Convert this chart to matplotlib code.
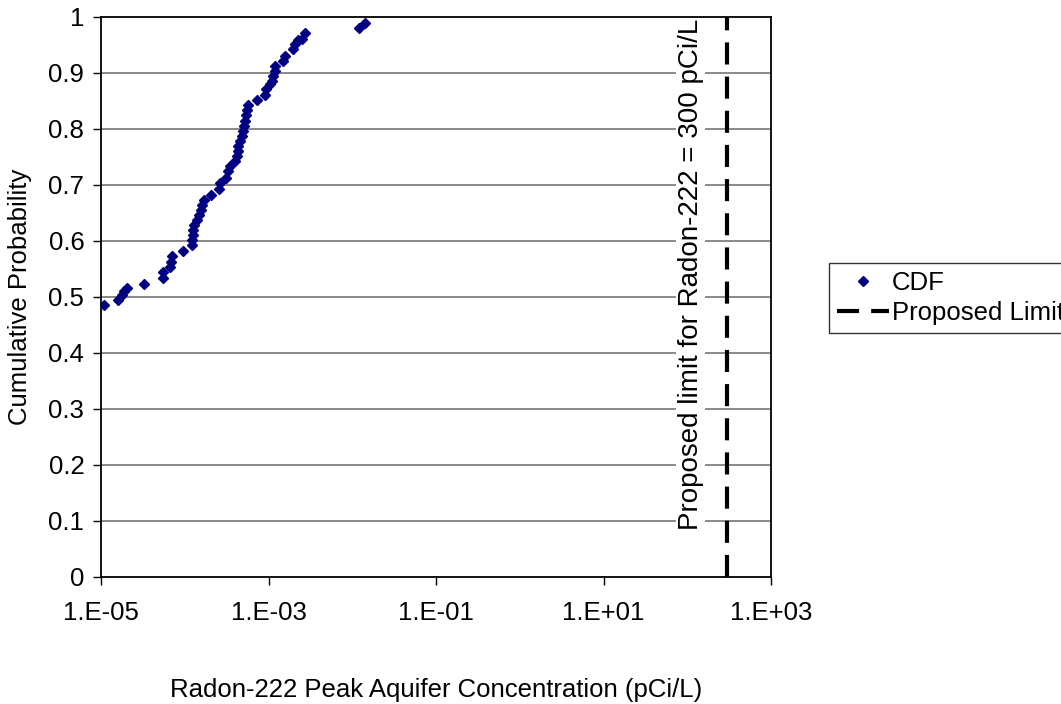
import matplotlib
matplotlib.use("Agg")
import matplotlib.pyplot as plt
from matplotlib.ticker import FixedLocator, NullLocator

plt.rcParams['font.family'] = ['Liberation Sans', 'DejaVu Sans']

# CDF of Radon-222 peak aquifer concentration (pCi/L)
cdf_conc = [1.09e-5, 1.61e-5, 1.77e-5, 1.90e-5, 2.03e-5, 3.26e-5, 5.46e-5, 5.55e-5,
            6.67e-5, 6.86e-5, 7.10e-5, 9.62e-5, 1.21e-4, 1.23e-4, 1.24e-4, 1.26e-4,
            1.30e-4, 1.39e-4, 1.48e-4, 1.56e-4, 1.62e-4, 1.71e-4, 2.06e-4, 2.56e-4,
            2.64e-4, 3.11e-4, 3.26e-4, 3.47e-4, 3.98e-4, 4.17e-4, 4.29e-4, 4.36e-4,
            4.57e-4, 4.79e-4, 5.00e-4, 5.14e-4, 5.24e-4, 5.34e-4, 5.49e-4, 5.74e-4,
            7.23e-4, 9.08e-4, 9.26e-4, 1.04e-3, 1.09e-3, 1.14e-3, 1.20e-3, 1.20e-3,
            1.50e-3, 1.57e-3, 1.95e-3, 2.07e-3, 2.27e-3, 2.49e-3, 2.73e-3,
            1.21e-2, 1.42e-2]
cdf_prob = [0.486, 0.495, 0.503, 0.510, 0.516, 0.524, 0.534, 0.544,
            0.553, 0.563, 0.573, 0.583, 0.593, 0.602, 0.611, 0.620,
            0.629, 0.638, 0.647, 0.656, 0.665, 0.674, 0.683, 0.693,
            0.704, 0.713, 0.725, 0.734, 0.743, 0.752, 0.761, 0.770,
            0.779, 0.788, 0.797, 0.806, 0.815, 0.825, 0.834, 0.843,
            0.852, 0.860, 0.871, 0.880, 0.886, 0.895, 0.904, 0.913,
            0.922, 0.931, 0.943, 0.952, 0.959, 0.961, 0.971,
            0.981, 0.990]

limit_value = 300
limit_label = "Proposed limit for Radon-222 = 300 pCi/L"
x_ticks = [1e-5, 1e-3, 1e-1, 1e1, 1e3]
x_tick_labels = ["1.E-05", "1.E-03", "1.E-01", "1.E+01", "1.E+03"]
y_ticks = [0, 0.1, 0.2, 0.3, 0.4, 0.5, 0.6, 0.7, 0.8, 0.9, 1]
y_tick_labels = ["0", "0.1", "0.2", "0.3", "0.4", "0.5", "0.6", "0.7", "0.8", "0.9", "1"]

fs = 18.5
fig = plt.figure(figsize=(10.61, 7.04), dpi=100)
ax = fig.add_axes([101 / 1061, 127 / 704, 670 / 1061, 560 / 704])

for yv in y_ticks[1:-1]:
    ax.axhline(yv, color='#808080', lw=1.3, zorder=1)

ax.plot(cdf_conc, cdf_prob, ls='none', marker='D', ms=5, color='#000080',
        mec='#000080', label='CDF', zorder=3)
ax.plot([limit_value, limit_value], [0, 1], color='black', lw=3,
        dashes=(5.3, 2.9), label='Proposed Limit', zorder=2)

ax.text(10 ** 2.04, 0.54, limit_label, rotation=90, ha='center', va='center',
        fontsize=20, bbox=dict(facecolor='white', edgecolor='none', pad=1), zorder=2)

ax.set_xscale('log')
ax.set_xlim(1e-5, 1e3)
ax.set_ylim(0, 1)
ax.xaxis.set_major_locator(FixedLocator(x_ticks))
ax.xaxis.set_minor_locator(NullLocator())
ax.set_xticklabels(x_tick_labels)
ax.set_yticks(y_ticks)
ax.set_yticklabels(y_tick_labels)
ax.tick_params(direction='out', length=6, width=1, labelsize=fs, pad=6)
ax.tick_params(axis='x', pad=11)
for sp in ax.spines.values():
    sp.set_linewidth(1.3)
    sp.set_color('black')

ax.set_ylabel("Cumulative Probability", fontsize=fs, labelpad=12)
fig.text(436 / 1061, 1 - 690 / 704, "Radon-222 Peak Aquifer Concentration (pCi/L)",
         fontsize=fs, ha='center', va='center')

leg = ax.legend(loc='upper left', bbox_to_anchor=(829 / 1061, 1 - 263 / 704),
                bbox_transform=fig.transFigure, fontsize=fs, frameon=True,
                fancybox=False, borderpad=0.3, handlelength=2.05, handletextpad=0.1,
                labelspacing=0.25, borderaxespad=0)
leg.get_frame().set_edgecolor('black')
leg.get_frame().set_linewidth(1)

fig.savefig("out.png", dpi=100)
